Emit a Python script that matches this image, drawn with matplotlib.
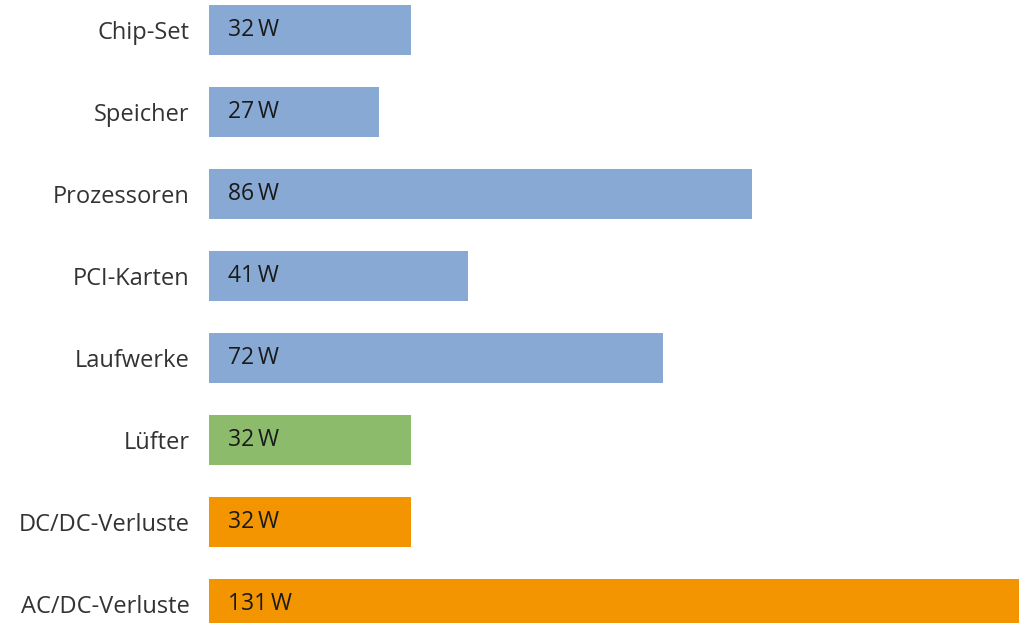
import matplotlib
matplotlib.use("Agg")
import matplotlib.pyplot as plt

plt.rcParams['font.family'] = ['Open Sans', 'DejaVu Sans']

# data
categories = ["Chip-Set", "Speicher", "Prozessoren", "PCI-Karten",
              "Laufwerke", "Lüfter", "DC/DC-Verluste", "AC/DC-Verluste"]
watts = [32, 27, 86, 41, 72, 32, 32, 131]
groups = ["board", "board", "board", "board", "board", "fan", "loss", "loss"]

group_colors = {"board": "#87A9D3", "fan": "#8CBC6B", "loss": "#F29500"}

fig = plt.figure(figsize=(10.19, 6.23), dpi=100)
ax = fig.add_axes([209 / 1019, 0, 1 - 209 / 1019, 1])

ypos = list(range(len(categories)))
colors = [group_colors[g] for g in groups]
ax.barh(ypos, watts, height=0.62, color=colors)

for y, w in zip(ypos, watts):
    ax.annotate(f"{w}\u2009W", xy=(0, y), xytext=(13.5, 0), textcoords="offset points",
                ha="left", va="center", fontsize=16.5, color="#1a1a1a")

px_per_w = 6.31
ax.set_xlim(0, (1019 - 209) / px_per_w)
ax.set_ylim((623 - 30) / 82, -30 / 82)

ax.set_yticks(ypos)
ax.set_yticklabels(categories, fontsize=17, color="#333333")
ax.tick_params(axis="y", length=0, pad=14)
ax.set_xticks([])
for s in ax.spines.values():
    s.set_visible(False)

fig.savefig("out.png", dpi=100)
